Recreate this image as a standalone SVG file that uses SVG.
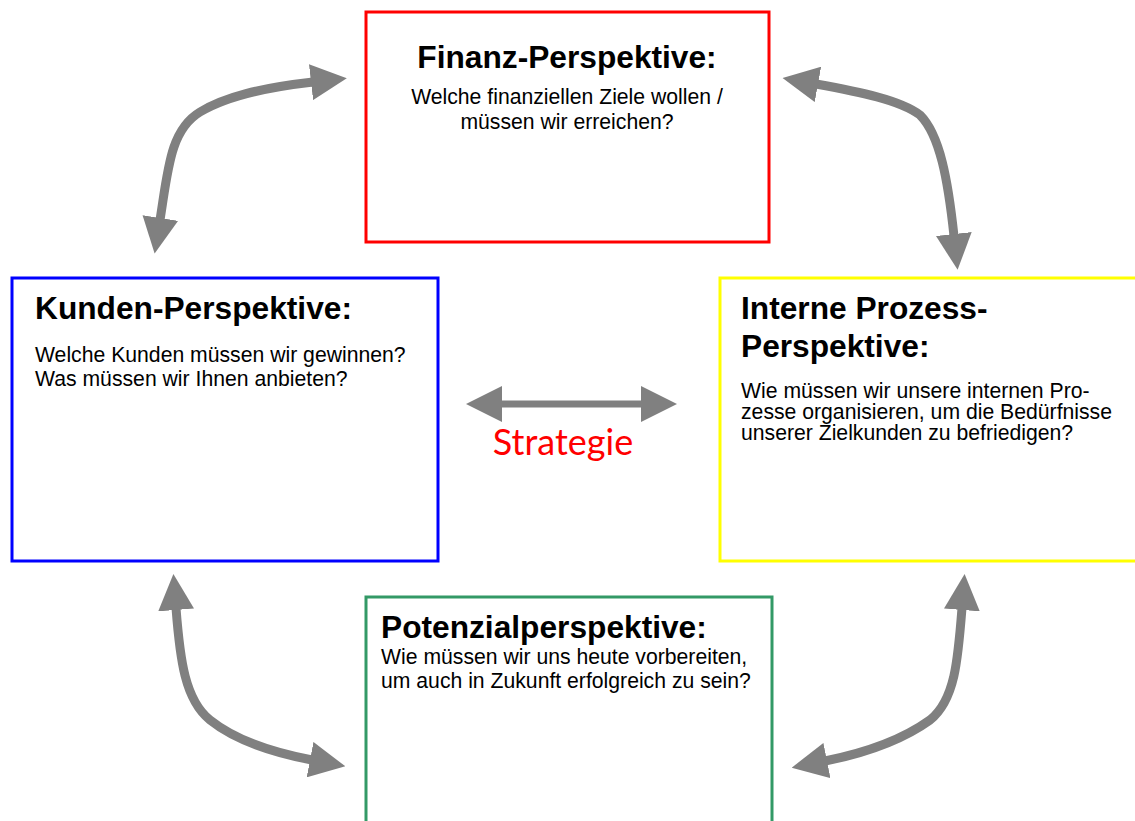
<svg xmlns="http://www.w3.org/2000/svg" width="1135" height="821" viewBox="0 0 1135 821">
<style>
.box{fill:#ffffff;stroke-width:3}
.t{font-family:"Liberation Sans",Arial,sans-serif;font-weight:bold;font-size:31.7px;fill:#000}
.b{font-family:"Liberation Sans",Arial,sans-serif;font-size:21.2px;fill:#000}
.arr{fill:none;stroke:#808080;stroke-width:9}
.strat{font-family:"Gill Sans",Lato,"Open Sans",sans-serif;font-size:36px;fill:#ff0000}
</style>
<defs>
<marker id="head" viewBox="0 0 36 36" markerUnits="userSpaceOnUse" markerWidth="36" markerHeight="36" refX="2" refY="18" orient="auto-start-reverse">
<path d="M0,0 L36,18 L0,36 Z" fill="#808080"/>
</marker>
</defs>
<rect width="1135" height="821" fill="#ffffff"/>
<g id="finanz">
<rect class="box" x="366" y="12" width="403" height="230" stroke="#ff0000"/>
<text class="t" x="567" y="68" text-anchor="middle">Finanz-Perspektive:</text>
<text class="b" x="567" y="104" text-anchor="middle">Welche finanziellen Ziele wollen /</text>
<text class="b" x="567" y="129" text-anchor="middle">müssen wir erreichen?</text>
</g>
<g id="kunden">
<rect class="box" x="12" y="278" width="426" height="283" stroke="#0000ff"/>
<text class="t" x="35" y="319">Kunden-Perspektive:</text>
<text class="b" x="35" y="362">Welche Kunden müssen wir gewinnen?</text>
<text class="b" x="35" y="386">Was müssen wir Ihnen anbieten?</text>
</g>
<g id="prozess">
<rect class="box" x="720" y="278" width="430" height="283" stroke="#ffff00"/>
<text class="t" x="741" y="319">Interne Prozess-</text>
<text class="t" x="741" y="357">Perspektive:</text>
<text class="b" x="741" y="398">Wie müssen wir unsere internen Pro-</text>
<text class="b" x="741" y="419">zesse organisieren, um die Bedürfnisse</text>
<text class="b" x="741" y="440">unserer Zielkunden zu befriedigen?</text>
</g>
<g id="potenzial">
<rect class="box" x="366" y="597" width="406" height="240" stroke="#339966"/>
<text class="t" x="381" y="638">Potenzialperspektive:</text>
<text class="b" x="381" y="664">Wie müssen wir uns heute vorbereiten,</text>
<text class="b" x="381" y="688">um auch in Zukunft erfolgreich zu sein?</text>
</g>
<g id="strategie">
<text class="strat" x="563" y="455" text-anchor="middle">Strategie</text>
</g>
<g id="connectors">
<path class="arr" d="M160,220 C168,170 170,130 200,112 C225,97 260,88 313,82" marker-start="url(#head)" marker-end="url(#head)"/>
<path class="arr" d="M816,84 C860,92 900,100 920,115 C940,135 948,180 954,236" marker-start="url(#head)" marker-end="url(#head)"/>
<path class="arr" d="M176,608 C180,660 185,700 210,720 C235,740 270,752 312,760" marker-start="url(#head)" marker-end="url(#head)"/>
<path class="arr" d="M962,608 C958,660 955,700 930,720 C905,738 870,752 825,761" marker-start="url(#head)" marker-end="url(#head)"/>
<path class="arr" style="stroke-width:7" d="M500,404 L643,404" marker-start="url(#head)" marker-end="url(#head)"/>
</g>
</svg>
